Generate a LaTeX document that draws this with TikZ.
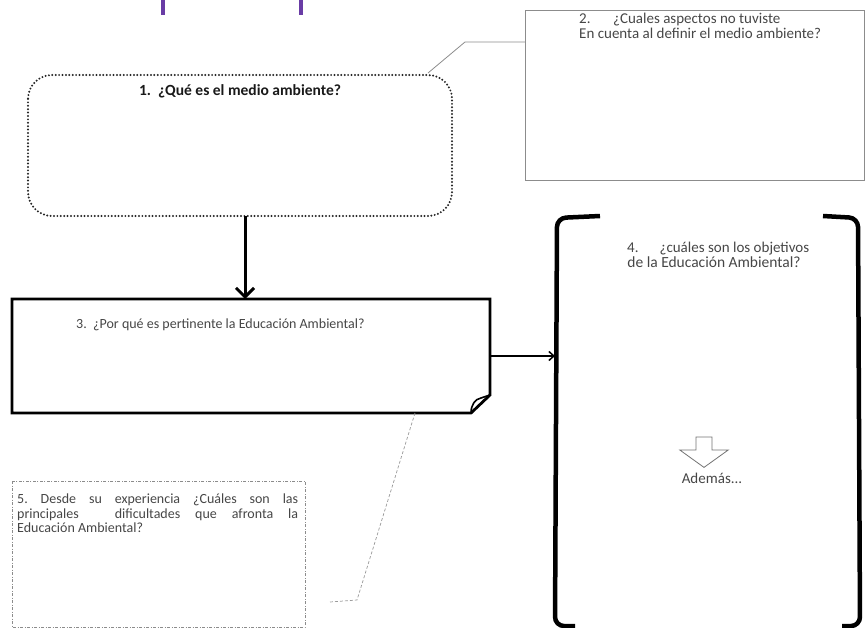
\documentclass[tikz,border=0pt]{standalone}
\usepackage{fontspec}
\setmainfont{Carlito}
\usetikzlibrary{arrows.meta,calc}
\definecolor{inkgray}{RGB}{70,70,70}
\definecolor{titleviolet}{RGB}{105,60,165}
\frenchspacing
\tikzset{
  box/.style={anchor=north west, inner sep=0pt, outer sep=0pt},
  qtext/.style={font=\fontsize{15}{15}\selectfont, text=inkgray, inner sep=0pt},
  dotbox/.style={draw=black!85, line width=2.2pt, line cap=round, dash pattern=on 0pt off 3.4pt, rounded corners=24pt},
  thinbox/.style={draw=black!45, line width=0.9pt},
  heavy/.style={draw=black, line width=2.8pt, line join=miter},
  bracket/.style={draw=black, line width=4.5pt, rounded corners=9pt},
  callout/.style={draw=black!45, line width=0.8pt},
  dashcallout/.style={draw=black!40, line width=0.7pt, dash pattern=on 3pt off 2pt},
  dashdotbox/.style={draw=black!45, line width=0.7pt, dash pattern=on 3pt off 1.5pt on 1pt off 1.5pt},
  bigarrow/.style={draw=black, line width=3pt, -{Straight Barb[length=9pt,width=18pt,line width=3pt]}},
  smallarrow/.style={draw=black, line width=1.5pt, -{Straight Barb[length=5pt,width=9pt,line width=1.5pt]}},
  hollowarrow/.style={draw=black!55, line width=0.8pt, fill=white}
}
\begin{document}
\begin{tikzpicture}[x=1pt,y=-1pt]
\useasboundingbox (0,0) rectangle (866,628);

% violet fragments along the top edge
\fill[titleviolet] (161,0) rectangle (165,15);
\fill[titleviolet] (299,0) rectangle (303,15);

% box frames
\node[box, minimum width=424pt, minimum height=141pt] (q1) at (28,75) {};
\node[box, minimum width=340pt, minimum height=170pt] (q2) at (525,10) {};
\node[box, minimum width=478pt, minimum height=114pt] (q3) at (12,299) {};
\node[box, minimum width=305pt, minimum height=408pt] (q4) at (555,218) {};
\node[box, minimum width=293pt, minimum height=146pt] (q5) at (12,481) {};

% 1: dotted rounded frame
\draw[dotbox] (q1.north west) rectangle (q1.south east);
\node[qtext, font=\fontsize{15.5}{15}\bfseries, text=black!90, anchor=base] (t1) at (240,96) {1.\ \ ¿Qué es el medio ambiente?};

% 2: plain frame with callout to box 1
\draw[thinbox] (q2.north west) rectangle ([xshift=-1pt]q2.south east);
\node[qtext, anchor=base west] (t2a) at (579,24) {2.\hspace{1.5em}¿Cuales aspectos no tuviste};
\node[qtext, anchor=base west] (t2b) at (579,39) {En cuenta al definir el medio ambiente?};
\coordinate (c2a) at ($(q2.north west)+(-60,32)$);
\coordinate (c2b) at (428,73);
\draw[callout] ($(q2.north west)+(0,32)$) -- (c2a) -- (c2b);

% 3: heavy frame with folded corner
\draw[heavy] (q3.north west) -- (q3.north east) -- ([yshift=18pt]q3.south east)
  -- ([xshift=-19pt]q3.south east) -- (q3.south west) -- cycle;
\draw[black, line width=1.6pt, line join=round]
  ([xshift=-19pt]q3.south east) .. controls ([xshift=-19pt,yshift=8pt]q3.south east) and ([xshift=-15pt,yshift=14pt]q3.south east) .. ([xshift=-9pt,yshift=15pt]q3.south east)
  -- ([yshift=18pt]q3.south east);
\node[qtext, font=\fontsize{14}{15}\selectfont, anchor=base west] (t3) at (76,328) {3.\ \ ¿Por qué es pertinente la Educación Ambiental?};

% 4: bracket frame
\draw[bracket] ([xshift=45pt,yshift=2pt]q4.north west) -- ([xshift=2pt]q4.north west) -- (q4.south west) -- ([xshift=20pt]q4.south west);
\draw[bracket] ([xshift=-37pt,yshift=2pt]q4.north east) -- ([xshift=-2pt]q4.north east) -- (q4.south east) -- ([xshift=-18pt]q4.south east);
\node[qtext, anchor=base west] (t4a) at (627,252) {4.\hspace{1.4em}¿cuáles son los objetivos};
\node[qtext, font=\fontsize{15.5}{15}\selectfont, anchor=base] (t4b) at (714,267) {de la Educación Ambiental?};
\node[inner sep=0pt, minimum width=48pt, minimum height=30pt, anchor=north] (down) at (704,437) {};
\draw[hollowarrow] ([xshift=-8pt]down.north) -- ([xshift=8pt]down.north) -- ([xshift=8pt,yshift=-13pt]down.north)
  -- ([yshift=-13pt]down.north east) -- (down.south) -- ([yshift=-13pt]down.north west)
  -- ([xshift=-8pt,yshift=-13pt]down.north) -- cycle;
\node[qtext, anchor=base] (more) at (712,483) {Además...};

% 5: dash-dot frame, justified text
\draw[dashdotbox] (q5.north west) rectangle (q5.south east);
\tikzset{qtext/.append style={font=\fontsize{14}{15}\selectfont}}
\node[qtext, anchor=base west] (t5a) at (17,503) {\makebox[281pt][s]{5. Desde su experiencia ¿Cuáles son las}};
\node[qtext, anchor=base west] (t5b) at (17,518) {\makebox[281pt][s]{principales\hspace{1.5em} dificultades que afronta la}};
\node[qtext, anchor=base west] (t5c) at (17,532) {Educación Ambiental?};
\coordinate (c5a) at (357,600);
\coordinate (c5b) at (330,602);
\draw[dashcallout] ([xshift=-75pt]q3.south east) -- (c5a) -- (c5b);

% connectors
\draw[bigarrow] ([xshift=5pt]q1.south) -- ([xshift=5pt]q1.south |- q3.north);
\draw[smallarrow] ([yshift=-57pt]q3.north east) -- ([yshift=-57pt]q3.north east -| q4.west);
\end{tikzpicture}
\end{document}
